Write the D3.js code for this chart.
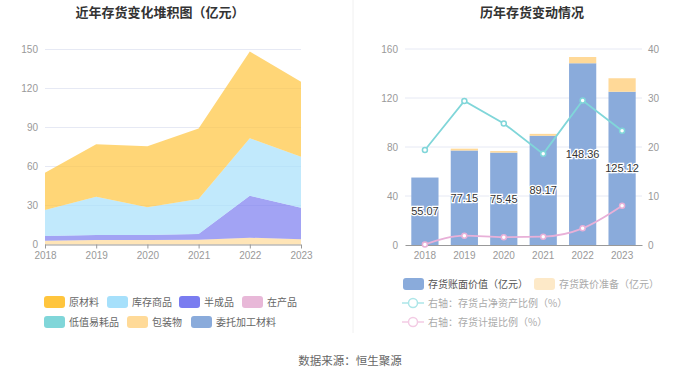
<!DOCTYPE html>
<html><head><meta charset="utf-8">
<script src="https://cdn.jsdelivr.net/npm/d3@7"></script>
<style>
body{margin:0;background:#fff;}
svg{display:block;font-family:"Noto Sans CJK SC","Noto Sans",sans-serif;}
</style></head>
<body>
<svg id="c" width="700" height="378"></svg>
<script>
const years = ['2018','2019','2020','2021','2022','2023'];
// left stacked area (亿元)
const rawMaterial   = [28.6,40.4,46.9,54.2,66.7,57.6];
const finishedGoods = [20.0,29.5,21.3,27.0,44.2,39.2];
const semiFinished  = [3.6,3.9,3.9,4.4,32.3,24.3];
const wip           = [0,0,0,0,0,0];
const lowValue      = [0,0,0,0,0,0];
const packaging     = [2.9,3.4,3.4,3.6,5.2,4.0];
const entrusted     = [0,0,0,0,0,0];
const leftTicks = [0,30,60,90,120,150];
// right chart
const bookValue      = [55.07,77.15,75.45,89.17,148.36,125.12];
const provision      = [0,1.5,1.2,1.55,5.1,11.0];
const netAssetRatio  = [19.4,29.4,24.8,18.6,29.5,23.3];
const provisionRatio = [0.1,1.9,1.6,1.7,3.4,8.0];
const rightTicksL = [0,40,80,120,160];
const rightTicksR = [0,10,20,30,40];

const svg = d3.select('#c');
const gridC = '#e6e9f4', axisC = '#999', labC = '#999';

// titles
svg.append('text').attr('x',160).attr('y',17).attr('text-anchor','middle')
  .attr('font-size',13).attr('font-weight','bold').attr('fill','#333').text('近年存货变化堆积图（亿元）');
svg.append('text').attr('x',532).attr('y',17).attr('text-anchor','middle')
  .attr('font-size',13).attr('font-weight','bold').attr('fill','#333').text('历年存货变动情况');
// divider
svg.append('line').attr('x1',353).attr('x2',353).attr('y1',0).attr('y2',333).attr('stroke','#f0f0f0');

// ---------- LEFT ----------
const series = [
  {name:'原材料', key:'raw', vals:rawMaterial, color:'#ffc53d'},
  {name:'库存商品', key:'fg', vals:finishedGoods, color:'#a6e0fb'},
  {name:'半成品', key:'semi', vals:semiFinished, color:'#7a7cf0'},
  {name:'在产品', key:'wip', vals:wip, color:'#e8b8d8'},
  {name:'低值易耗品', key:'low', vals:lowValue, color:'#80d6d9'},
  {name:'包装物', key:'pack', vals:packaging, color:'#ffda98'},
  {name:'委托加工材料', key:'ent', vals:entrusted, color:'#8aabdb'}
];
const xL = d3.scalePoint().domain(years).range([45,301]);
const yL = d3.scaleLinear().domain([0,150]).range([244.5,49.5]);
const gL = svg.append('g');
gL.selectAll('.grid').data(leftTicks.slice(1)).join('line')
  .attr('x1',45).attr('x2',301).attr('y1',d=>yL(d)).attr('y2',d=>yL(d)).attr('stroke',gridC);
const table = years.map((y,i)=>{const o={year:y}; series.forEach(s=>o[s.key]=s.vals[i]); return o;});
const stackOrder = ['ent','pack','low','wip','semi','fg','raw'];
const stacked = d3.stack().keys(stackOrder)(table);
const colorOf = Object.fromEntries(series.map(s=>[s.key,s.color]));
const area = d3.area().x(d=>xL(d.data.year)).y0(d=>yL(d[0])).y1(d=>yL(d[1]));
gL.selectAll('.area').data(stacked).join('path')
  .attr('d',area).attr('fill',d=>colorOf[d.key]).attr('fill-opacity',0.7);
const axL = d3.axisLeft(yL).tickValues(leftTicks).tickSize(0).tickPadding(7);
gL.append('g').attr('transform','translate(45,0)').call(axL)
  .call(g=>g.select('.domain').remove())
  .call(g=>g.selectAll('text').attr('fill',labC).attr('font-size',10).attr('font-family','Liberation Sans, Arial, sans-serif'));
const axBL = d3.axisBottom(xL).tickSize(4).tickPadding(3);
gL.append('g').attr('transform','translate(0,244.5)').call(axBL)
  .call(g=>g.select('.domain').attr('stroke',axisC).attr('d','M45,0.5H301'))
  .call(g=>g.selectAll('line').attr('stroke',axisC))
  .call(g=>g.selectAll('text').attr('fill',labC).attr('font-size',10).attr('font-family','Liberation Sans, Arial, sans-serif'));

// left legend
const legPos = [[44,302],[107,302],[179,302],[242,302],[44,322],[127,322],[191,322]];
series.forEach((s,i)=>{
  const [lx,ly]=legPos[i];
  svg.append('rect').attr('x',lx).attr('y',ly-6).attr('width',21).attr('height',12).attr('rx',3).attr('fill',s.color);
  svg.append('text').attr('x',lx+25).attr('y',ly).attr('dy','0.35em').attr('font-size',10).attr('fill','#666').text(s.name);
});

// ---------- RIGHT ----------
const xR = d3.scaleBand().domain(years).range([405,642]).paddingInner(0.31).paddingOuter(0.16);
const yR = d3.scaleLinear().domain([0,160]).range([245,49]);
const yR2 = d3.scaleLinear().domain([0,40]).range([245,49]);
const gR = svg.append('g');
gR.selectAll('.grid').data(rightTicksL.slice(1)).join('line')
  .attr('x1',405).attr('x2',642).attr('y1',d=>yR(d)).attr('y2',d=>yR(d)).attr('stroke',gridC);
gR.selectAll('.bar').data(years).join('rect')
  .attr('x',d=>xR(d)).attr('width',xR.bandwidth())
  .attr('y',(d,i)=>yR(bookValue[i])).attr('height',(d,i)=>yR(0)-yR(bookValue[i]))
  .attr('fill','#8aabdb');
gR.selectAll('.bar2').data(years).join('rect')
  .attr('x',d=>xR(d)).attr('width',xR.bandwidth())
  .attr('y',(d,i)=>yR(bookValue[i]+provision[i])).attr('height',(d,i)=>yR(bookValue[i])-yR(bookValue[i]+provision[i]))
  .attr('fill','#ffd998');
gR.append('g').attr('transform','translate(405,0)').call(d3.axisLeft(yR).tickValues(rightTicksL).tickSize(0).tickPadding(7))
  .call(g=>g.select('.domain').remove())
  .call(g=>g.selectAll('text').attr('fill',labC).attr('font-size',10).attr('font-family','Liberation Sans, Arial, sans-serif'));
gR.append('g').attr('transform','translate(642,0)').call(d3.axisRight(yR2).tickValues(rightTicksR).tickSize(0).tickPadding(6))
  .call(g=>g.select('.domain').remove())
  .call(g=>g.selectAll('text').attr('fill',labC).attr('font-size',10).attr('font-family','Liberation Sans, Arial, sans-serif'));
gR.append('g').attr('transform','translate(0,245)').call(d3.axisBottom(xR).tickSize(0).tickPadding(7))
  .call(g=>g.select('.domain').attr('stroke',axisC))
  .call(g=>g.selectAll('text').attr('fill',labC).attr('font-size',10).attr('font-family','Liberation Sans, Arial, sans-serif'));
// bar labels
gR.selectAll('.lab').data(years).join('text')
  .attr('x',d=>xR(d)+xR.bandwidth()/2).attr('y',(d,i)=>(yR(bookValue[i])+yR(0))/2).attr('dy','0.35em')
  .attr('text-anchor','middle').attr('font-size',11).attr('font-family','Liberation Sans, Arial, sans-serif')
  .attr('fill','#333').attr('stroke','#fff').attr('stroke-width',2.5).attr('paint-order','stroke')
  .text((d,i)=>bookValue[i].toFixed(2));
// lines
const cx = d=>xR(d)+xR.bandwidth()/2;
const line1 = d3.line().x((d,i)=>cx(years[i])).y(d=>yR2(d));
const line2 = d3.line().x((d,i)=>cx(years[i])).y(d=>yR2(d)).curve(d3.curveMonotoneX);
gR.append('path').attr('d',line1(netAssetRatio)).attr('fill','none').attr('stroke','#80d6d9').attr('stroke-width',1.8);
gR.append('path').attr('d',line2(provisionRatio)).attr('fill','none').attr('stroke','#e8b0d8').attr('stroke-width',1.8);
gR.selectAll('.p1').data(netAssetRatio).join('circle')
  .attr('cx',(d,i)=>cx(years[i])).attr('cy',d=>yR2(d)).attr('r',2.5).attr('fill','#fff').attr('stroke','#80d6d9').attr('stroke-width',1.5);
gR.selectAll('.p2').data(provisionRatio).join('circle')
  .attr('cx',(d,i)=>cx(years[i])).attr('cy',d=>yR2(d)).attr('r',2.5).attr('fill','#fff').attr('stroke','#e8b0d8').attr('stroke-width',1.5);

// right legend
svg.append('rect').attr('x',403).attr('y',278).attr('width',21).attr('height',12).attr('rx',3).attr('fill','#8aabdb');
svg.append('text').attr('x',428).attr('y',284).attr('dy','0.35em').attr('font-size',10).attr('fill','#555').text('存货账面价值（亿元）');
svg.append('rect').attr('x',534).attr('y',278).attr('width',21).attr('height',12).attr('rx',3).attr('fill','#fde9c8');
svg.append('text').attr('x',559).attr('y',284).attr('dy','0.35em').attr('font-size',10).attr('fill','#aaa').text('存货跌价准备（亿元）');
[[303,'#ade6e8','右轴：存货占净资产比例（%）'],[322,'#f3cbe4','右轴：存货计提比例（%）']].forEach(([ly,c,t])=>{
  svg.append('line').attr('x1',402).attr('x2',424).attr('y1',ly).attr('y2',ly).attr('stroke',c).attr('stroke-width',1.5);
  svg.append('circle').attr('cx',413).attr('cy',ly).attr('r',4.5).attr('fill','#fff').attr('stroke',c).attr('stroke-width',1.5);
  svg.append('text').attr('x',428).attr('y',ly).attr('dy','0.35em').attr('font-size',10).attr('fill','#aaa').text(t);
});

// source
svg.append('text').attr('x',350).attr('y',361).attr('dy','0.35em').attr('text-anchor','middle')
  .attr('font-size',11.5).attr('fill','#666').text('数据来源：恒生聚源');
</script>
</body></html>
